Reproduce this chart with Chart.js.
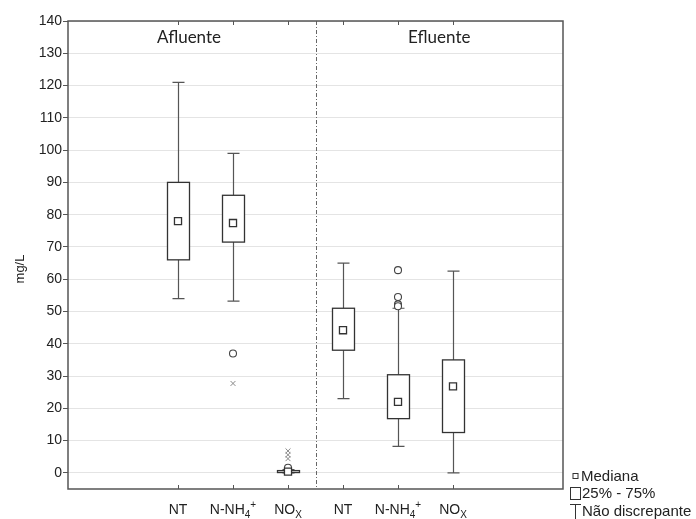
<!DOCTYPE html>
<html>
<head>
<meta charset="utf-8">
<script src="https://cdn.jsdelivr.net/npm/chart.js@4.4.1/dist/chart.umd.min.js"></script>
<style>
  body { margin: 0; background: #fff; }
  #wrap { width: 696px; height: 519px; position: relative; }
</style>
</head>
<body>
<div id="wrap"><canvas id="chart"></canvas></div>
<script>
// categorias (texto base, subscrito, sobrescrito) e posição no eixo x
const catBase = ["NT", "N-NH", "NO", "NT", "N-NH", "NO"];
const catSub = ["", "4", "X", "", "4", "X"];
const catSup = ["", "+", "", "", "+", ""];
const catPos = [2, 3, 4, 5, 6, 7];
const groupTitles = ["Afluente", "Efluente"];
const groupCenters = [2.2, 6.75];
const dividerPos = 4.5;

// estatísticas de cada caixa (mg/L)
const mins = [54, 53.2, 0, 23, 8.2, 0];
const q1s = [66, 71.5, 0.1, 38, 16.8, 12.5];
const medians = [78, 77.4, 0.4, 44.2, 22, 26.8];
const q3s = [90, 86, 0.7, 51, 30.4, 35];
const maxs = [121, 99, 1.0, 65, 51, 62.5];
const outliers = [[], [37], [1.6], [], [62.8, 54.5, 52.2, 51.6], []];
const extremes = [[], [27.7], [6.8, 5.6, 4.4], [], [], []];

const yTicks = [0, 10, 20, 30, 40, 50, 60, 70, 80, 90, 100, 110, 120, 130, 140];

const FONT = "'Liberation Sans', Arial, sans-serif";
const TITLE_FONT = "Lato, 'Open Sans', sans-serif";
const TXT = "#222";

const outlierPts = [];
const extremePts = [];
catPos.forEach((x, i) => {
  outliers[i].forEach(v => outlierPts.push({ x: x, y: v }));
  extremes[i].forEach(v => extremePts.push({ x: x, y: v }));
});

// desenha caixas, bigodes, moldura, divisória e textos
const boxPlugin = {
  id: "boxPlugin",
  beforeDatasetsDraw(chart) {
    const { ctx, chartArea: a, scales: { x, y } } = chart;
    ctx.save();
    // linha divisória traço-ponto
    ctx.strokeStyle = "#666";
    ctx.lineWidth = 1;
    ctx.setLineDash([4, 2, 1, 2]);
    const dx = Math.round(x.getPixelForValue(dividerPos)) + 0.5;
    ctx.beginPath();
    ctx.moveTo(dx, a.top);
    ctx.lineTo(dx, a.bottom);
    ctx.stroke();
    ctx.setLineDash([]);

    const halfBox = 11, halfCap = 6;
    catPos.forEach((c, i) => {
      const px = Math.round(x.getPixelForValue(c)) + 0.5;
      const yMin = y.getPixelForValue(mins[i]);
      const yQ1 = y.getPixelForValue(q1s[i]);
      const yQ3 = y.getPixelForValue(q3s[i]);
      const yMax = y.getPixelForValue(maxs[i]);
      // bigodes
      ctx.strokeStyle = "#555";
      ctx.lineWidth = 1.2;
      ctx.beginPath();
      ctx.moveTo(px, yMax); ctx.lineTo(px, yQ3);
      ctx.moveTo(px, yQ1); ctx.lineTo(px, yMin);
      ctx.moveTo(px - halfCap, yMax); ctx.lineTo(px + halfCap, yMax);
      ctx.moveTo(px - halfCap, yMin); ctx.lineTo(px + halfCap, yMin);
      ctx.stroke();
      // caixa 25%-75%
      ctx.fillStyle = "#fff";
      ctx.strokeStyle = "#333";
      ctx.lineWidth = 1.3;
      ctx.fillRect(px - halfBox, yQ3, halfBox * 2, yQ1 - yQ3);
      ctx.strokeRect(px - halfBox, yQ3, halfBox * 2, yQ1 - yQ3);
    });
    ctx.restore();
  },
  afterDraw(chart) {
    const { ctx, chartArea: a, scales: { x, y } } = chart;
    ctx.save();
    // moldura
    ctx.strokeStyle = "#555";
    ctx.lineWidth = 1.5;
    ctx.strokeRect(a.left, a.top, a.right - a.left, a.bottom - a.top);
    // marcas do eixo x (embaixo e em cima, para dentro)
    ctx.lineWidth = 1;
    ctx.strokeStyle = "#555";
    ctx.beginPath();
    catPos.forEach(c => {
      const px = Math.round(x.getPixelForValue(c)) + 0.5;
      ctx.moveTo(px, a.bottom); ctx.lineTo(px, a.bottom - 4);
      ctx.moveTo(px, a.top); ctx.lineTo(px, a.top + 4);
    });
    ctx.stroke();

    ctx.fillStyle = TXT;
    // rótulos das categorias com subscrito / sobrescrito
    catPos.forEach((c, i) => {
      const px = x.getPixelForValue(c);
      const base = catBase[i], sub = catSub[i], sup = catSup[i];
      ctx.font = "14px " + FONT;
      const wb = ctx.measureText(base).width;
      ctx.font = "10px " + FONT;
      const ws = Math.max(ctx.measureText(sub).width, 0);
      const wp = ctx.measureText(sup).width;
      const total = wb + (sub ? ws : 0) + (sup ? wp : 0);
      let sx = px - total / 2;
      const by = a.bottom + 25;
      ctx.textAlign = "left";
      ctx.textBaseline = "alphabetic";
      ctx.font = "14px " + FONT;
      ctx.fillText(base, sx, by);
      sx += wb;
      ctx.font = "10px " + FONT;
      if (sub) { ctx.fillText(sub, sx, by + 4); sx += ws; }
      if (sup) { ctx.fillText(sup, sx, by - 6); }
    });

    // títulos dos grupos
    ctx.font = "17px " + TITLE_FONT;
    ctx.textAlign = "center";
    ctx.textBaseline = "middle";
    groupTitles.forEach((t, i) => {
      ctx.fillText(t, x.getPixelForValue(groupCenters[i]), a.top + 17);
    });

    // título do eixo y
    ctx.save();
    ctx.translate(20, (a.top + a.bottom) / 2 + 14);
    ctx.rotate(-Math.PI / 2);
    ctx.font = "13px " + FONT;
    ctx.fillText("mg/L", 0, 0);
    ctx.restore();

    // legenda
    const lx = 575.5;
    ctx.strokeStyle = "#333";
    ctx.lineWidth = 1;
    ctx.strokeRect(lx - 2.5, 473.5, 5, 5);
    ctx.strokeRect(570.5, 487.5, 10, 12);
    ctx.beginPath();
    ctx.moveTo(570, 504.5); ctx.lineTo(581, 504.5);
    ctx.moveTo(lx, 504.5); ctx.lineTo(lx, 519);
    ctx.stroke();
    ctx.font = "15px " + FONT;
    ctx.textAlign = "left";
    ctx.textBaseline = "middle";
    ctx.fillText("Mediana", 581, 477);
    ctx.fillText("25% - 75%", 582, 494);
    ctx.fillText("Não discrepante", 582, 512);
    ctx.restore();
  }
};

new Chart(document.getElementById("chart"), {
  type: "scatter",
  data: {
    datasets: [
      {
        label: "Mediana",
        data: catPos.map((c, i) => ({ x: c, y: medians[i] })),
        pointStyle: "rect",
        pointRadius: 5,
        pointBackgroundColor: "#fff",
        pointBorderColor: "#333",
        pointBorderWidth: 1.3,
      },
      {
        label: "Discrepante",
        data: outlierPts,
        pointStyle: "circle",
        pointRadius: 3.5,
        pointBackgroundColor: "#fff",
        pointBorderColor: "#444",
        pointBorderWidth: 1.1,
      },
      {
        label: "Extremo",
        data: extremePts,
        pointStyle: "crossRot",
        pointRadius: 3.5,
        pointBorderColor: "#888",
        pointBorderWidth: 1,
      },
    ],
  },
  options: {
    responsive: true,
    maintainAspectRatio: false,
    animation: false,
    layout: { padding: { top: 21, bottom: 30, right: 133, left: 0 } },
    plugins: { legend: { display: false }, tooltip: { enabled: false } },
    scales: {
      x: { type: "linear", min: 0, max: 9, display: false },
      y: {
        min: -5,
        max: 140,
        afterBuildTicks: (axis) => { axis.ticks = yTicks.map(v => ({ value: v })); },
        afterFit: (axis) => { axis.width = 68; },
        border: { display: false },
        grid: { color: "#e4e4e4", lineWidth: 1, tickColor: "#555", tickLength: 5 },
        ticks: { color: TXT, padding: 1, font: { family: FONT, size: 14 } },
      },
    },
  },
  plugins: [boxPlugin],
});
</script>
</body>
</html>
